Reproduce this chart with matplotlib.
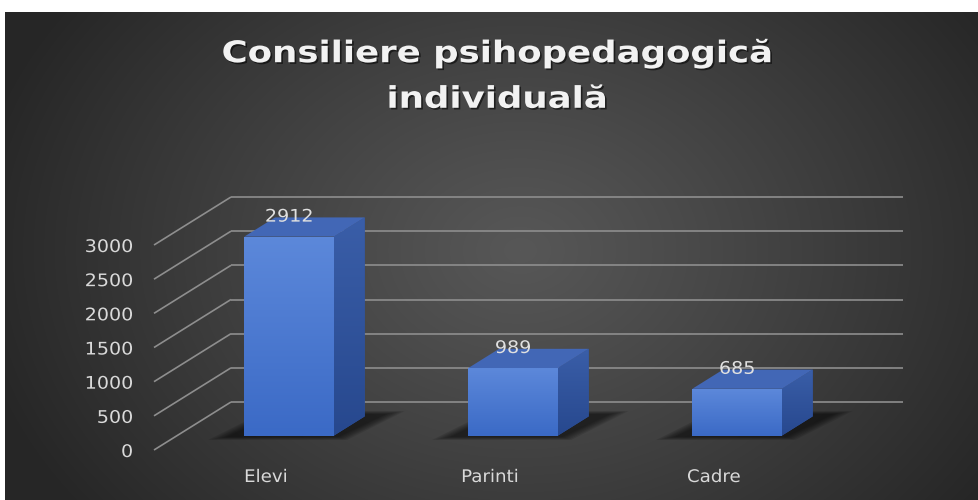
import numpy as np
import matplotlib
matplotlib.use("Agg")
import matplotlib.pyplot as plt
from matplotlib.patches import Polygon
from matplotlib.transforms import Affine2D
import matplotlib.patheffects as pe

# ---------------- data ----------------
categories = ["Elevi", "Parinti", "Cadre"]
values = [2912, 989, 685]
y_ticks = [0, 500, 1000, 1500, 2000, 2500, 3000]
title = "Consiliere psihopedagogică\nindividuală"


class Stretch(pe.AbstractPathEffect):
    """Draw text glyphs horizontally stretched (the reference is a widened image)."""

    def __init__(self, sx, anchor="center", shadow=None):
        super().__init__()
        self.sx = sx
        self.anchor = anchor
        self.shadow = shadow

    def draw_path(self, renderer, gc, tpath, affine, rgbFace=None):
        xs = tpath.vertices[:, 0]
        if len(xs) == 0:
            return
        if self.anchor == "center":
            a = (xs.min() + xs.max()) / 2
        elif self.anchor == "right":
            a = xs.max()
        else:
            a = xs.min()
        tr = Affine2D().translate(-a, 0).scale(self.sx, 1).translate(a, 0) + affine
        if self.shadow is not None:
            dx, dy, alpha = self.shadow
            gc0 = renderer.new_gc()
            gc0.copy_properties(gc)
            gc0.set_alpha(alpha)
            gc0.set_linewidth(0)
            off = Affine2D().translate(renderer.points_to_pixels(dx),
                                       renderer.points_to_pixels(dy))
            renderer.draw_path(gc0, tpath, tr + off, (0, 0, 0))
            gc0.restore()
        renderer.draw_path(gc, tpath, tr, rgbFace)


# ---------------- figure ----------------
W, H = 979, 500
fig = plt.figure(figsize=(W / 100, H / 100), dpi=100, facecolor="white")

# dark radial-gradient chart background (white strip at top/left like the reference)
bg = fig.add_axes([5 / W, 0, (W - 5) / W, (H - 12) / H])
bg.axis("off")
ny, nx = H - 12, W - 5
yy, xx = np.mgrid[0:ny, 0:nx]
cx, cy = 520 - 5, 250 - 12
r = np.sqrt(((xx - cx) / 560.0) ** 2 + ((yy - cy) / 430.0) ** 2)
t = np.clip(r, 0, 1) ** 1.1
c0 = np.array([0x57, 0x57, 0x57]) / 255
c1 = np.array([0x26, 0x26, 0x26]) / 255
img = c0 * (1 - t[..., None]) + c1 * t[..., None]
bg.imshow(img, aspect="auto", extent=(0, 1, 0, 1), origin="upper")
bg.set_xlim(0, 1)
bg.set_ylim(0, 1)

# main axes: x in category index units, y in value units (oblique 3D projection)
ax = fig.add_axes([0, 0, 1, 1])
ax.patch.set_visible(False)
ax.axis("off")
SLOT = 224.0          # px per category
X0 = 266.0            # px of category 0 at front of floor
Y0 = 50.0             # px (from bottom) of value 0 at front of floor
VPP = 3000 / 205.0    # value units per px
ax.set_xlim(-X0 / SLOT, (W - X0) / SLOT)
ax.set_ylim(-Y0 * VPP, (H - Y0) * VPP)

DX = 77 / SLOT        # full depth offset in x (index units)
DY = 48 * VPP         # full depth offset in y (value units)


def P(x, v, d):
    return (x + DX * d, v + DY * d)


lab_font = dict(color="#d9d9d9", fontsize=12.5, family="DejaVu Sans")

n = len(categories)
xl, xr = -0.5, n - 0.5
grid_c = "#8e8e8e"
for v in y_ticks:
    a, b = P(xl, v, 0), P(xl, v, 1)
    ax.plot([a[0], b[0]], [a[1], b[1]], color=grid_c, lw=1.2, zorder=1,
            solid_capstyle="butt")
    c = P(xr, v, 1)
    ax.plot([b[0], c[0]], [b[1], c[1]], color=grid_c, lw=1.2, zorder=1,
            solid_capstyle="butt")
    ax.text(xl - 21 / SLOT, v - 2 * VPP, str(v), ha="right", va="center",
            zorder=5, path_effects=[Stretch(1.1, "right")], **lab_font)


def vgrad(extent, top, bot, clip, z):
    g = np.linspace(0, 1, 64)[:, None, None]
    top = np.array(matplotlib.colors.to_rgb(top))
    bot = np.array(matplotlib.colors.to_rgb(bot))
    arr = top * (1 - g) + bot * g
    arr = np.repeat(arr, 2, axis=1)
    im = ax.imshow(arr, extent=extent, origin="upper", aspect="auto",
                   zorder=z, interpolation="bilinear")
    im.set_clip_path(clip)


w = 0.4
d0, d1 = 0.3, 0.7
for i, (cat, v) in enumerate(zip(categories, values)):
    x0, x1 = i - w / 2, i + w / 2
    # soft shadow on the floor
    for k in range(6):
        e = 0.012 * (5 - k)
        poly = [P(x0 - 0.07 - e, 0, d0 - 0.03 - e), P(x1 + 0.03 + e, 0, d0 - 0.03 - e),
                P(x1 + 0.08 + e, 0, d1 + 0.05 + e), P(x0 - 0.02 - e, 0, d1 + 0.05 + e)]
        ax.add_patch(Polygon(poly, closed=True, facecolor="black", edgecolor="none",
                             alpha=0.11, zorder=2))
    # front face
    front = Polygon([P(x0, 0, d0), P(x1, 0, d0), P(x1, v, d0), P(x0, v, d0)],
                    closed=True, facecolor="#4a78d0", edgecolor="none", zorder=3)
    ax.add_patch(front)
    fx0, fy0 = P(x0, 0, d0)
    fx1, fy1 = P(x1, v, d0)
    vgrad((fx0, fx1, fy0, fy1), "#5c88da", "#3b6ac6", front, 3.1)
    # side face
    side = Polygon([P(x1, 0, d0), P(x1, 0, d1), P(x1, v, d1), P(x1, v, d0)],
                   closed=True, facecolor="#2f55a6", edgecolor="none", zorder=3)
    ax.add_patch(side)
    sx0, sy0 = P(x1, 0, d0)
    sx1, sy1 = P(x1, v, d1)
    vgrad((sx0, sx1, sy0, sy1), "#3a5ea8", "#27488e", side, 3.1)
    # top face
    ax.add_patch(Polygon([P(x0, v, d0), P(x1, v, d0), P(x1, v, d1), P(x0, v, d1)],
                         closed=True, facecolor="#4267b6", edgecolor="none", zorder=3.2))
    # data label
    lx, ly = P(i, v, d0)
    ax.text(lx, ly + 20 * VPP, f"{v}", ha="center", va="center", zorder=6,
            path_effects=[Stretch(1.1, "center")],
            **dict(lab_font, color="#e0e0e0"))
    # category label
    ax.text(i, -27 * VPP, cat, ha="center", va="center", zorder=6,
            path_effects=[Stretch(1.05, "center")], **lab_font)

fig.text(497 / W, 1 - 76 / H, title, ha="center", va="center",
         color="#f2f2f2", fontsize=21.5, fontweight="bold", family="DejaVu Sans",
         linespacing=1.72,
         path_effects=[Stretch(1.19, "center", shadow=(1.2, -1.2, 0.55))])

fig.savefig("out.png", dpi=100, facecolor=fig.get_facecolor())
